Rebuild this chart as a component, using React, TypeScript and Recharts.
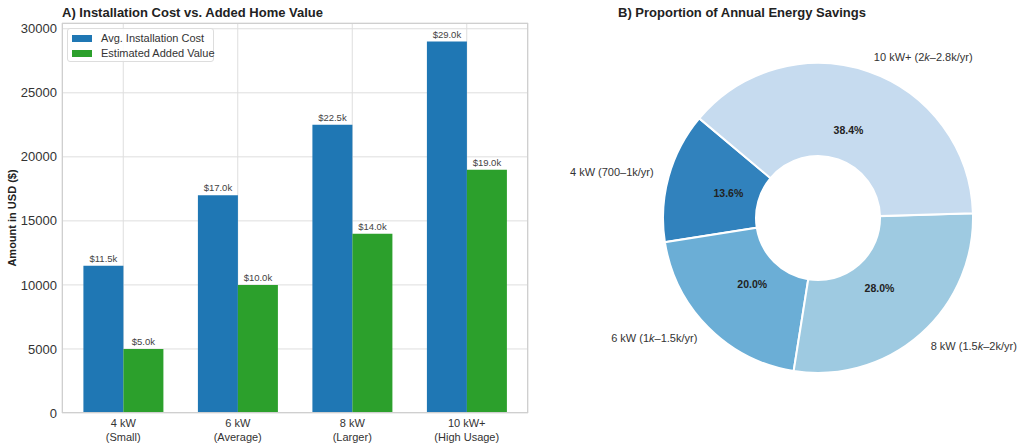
import * as React from "react"
import {
  BarChart,
  Bar,
  XAxis,
  YAxis,
  CartesianGrid,
  LabelList,
  PieChart,
  Pie,
  Cell,
} from "recharts"

const font = '"Liberation Sans", Arial, sans-serif'

// panel A
const systemSizes = ["4 kW", "6 kW", "8 kW", "10 kW+"]
const sizeNotes = ["(Small)", "(Average)", "(Larger)", "(High Usage)"]
const installCost = [11500, 17000, 22500, 29000]
const addedValue = [5000, 10000, 14000, 19000]
const yTicks = [0, 5000, 10000, 15000, 20000, 25000, 30000]

// panel B
const savingsMid = [850, 1250, 1750, 2400]
const sliceLabels: [string, string, string][] = [
  ["4 kW (700–1k/yr)", "", ""],
  ["6 kW (1", "k", "–1.5k/yr)"],
  ["8 kW (1.5", "k", "–2k/yr)"],
  ["10 kW+ (2", "k", "–2.8k/yr)"],
]
const sliceColors = ["#3182bd", "#6baed6", "#9ecae1", "#c6dbef"]

const barData = systemSizes.map((s, i) => ({
  name: s,
  note: sizeNotes[i],
  cost: installCost[i],
  value: addedValue[i],
}))

const pieData = savingsMid.map((v, i) => ({ name: sliceLabels[i].join(""), value: v, idx: i }))

const fmtK = (v: any) => `$${(Number(v) / 1000).toFixed(1)}k`

const SizeTick = (props: any) => {
  const { x, y, payload, index } = props
  return (
    <text x={x} y={y} textAnchor="middle" fontSize={11} fill="#333" fontFamily={font}>
      <tspan x={x} dy={14}>{payload.value}</tspan>
      <tspan x={x} dy={13.5}>{sizeNotes[index]}</tspan>
    </text>
  )
}

const RAD = Math.PI / 180

const sliceLabel = (props: any) => {
  const { cx, cy, midAngle, outerRadius, percent, index } = props
  const cos = Math.cos(-midAngle * RAD)
  const sin = Math.sin(-midAngle * RAD)
  const ro = outerRadius * 1.1
  const ri = outerRadius * 0.6
  const ox = cx + ro * cos
  const oy = cy + ro * sin
  const px = cx + ri * cos
  const py = cy + ri * sin
  const [a, b, c] = sliceLabels[index]
  return (
    <g>
      <text
        x={ox}
        y={oy}
        textAnchor={cos >= 0 ? "start" : "end"}
        dominantBaseline="central"
        fontSize={11}
        fill="#333"
        fontFamily={font}
      >
        {a}
        {b && <tspan fontStyle="italic">{b}</tspan>}
        {c}
      </text>
      <text
        x={px}
        y={py}
        textAnchor="middle"
        dominantBaseline="central"
        fontSize={10.5}
        fontWeight="bold"
        fill="#222"
        fontFamily={font}
      >
        {(percent * 100).toFixed(1)}%
      </text>
    </g>
  )
}

const LegendBox = () => (
  <div
    style={{
      position: "absolute",
      left: 67,
      top: 28,
      width: 147,
      height: 34,
      border: "1px solid #dddddd",
      borderRadius: 3,
      boxSizing: "border-box",
      background: "rgba(255,255,255,0.85)",
      fontFamily: font,
      fontSize: 11,
      color: "#333",
      whiteSpace: "nowrap",
    }}
  >
    {[
      ["Avg. Installation Cost", "#1f77b4"],
      ["Estimated Added Value", "#2ca02c"],
    ].map(([t, c], i) => (
      <div key={t} style={{ position: "absolute", left: 4, top: 2 + i * 15, height: 14, display: "flex", alignItems: "center" }}>
        <span style={{ display: "inline-block", width: 20, height: 7, background: c, marginRight: 9 }} />
        <span>{t}</span>
      </div>
    ))}
  </div>
)

export default function App() {
  return (
    <div style={{ position: "absolute", left: 0, top: 0, width: 1024, height: 448, background: "#fff", fontFamily: font }}>
      <div style={{ position: "absolute", left: 0, top: 0 }}>
        <BarChart
          width={540}
          height={448}
          data={barData}
          margin={{ top: 23, right: 12, bottom: 0, left: 0 }}
          barCategoryGap="15.2%"
          barGap={0}
        >
          <CartesianGrid stroke="#dedede" strokeWidth={1} />
          <XAxis
            dataKey="name"
            height={35}
            tick={<SizeTick />}
            tickSize={0}
            tickMargin={0}
            axisLine={false}
            padding={{ left: 4, right: 4 }}
            interval={0}
          />
          <YAxis
            width={62}
            domain={[0, 30450]}
            ticks={yTicks}
            tickSize={0}
            tickMargin={5}
            axisLine={false}
            tick={{ fontSize: 13, fill: "#333", fontFamily: font }}
          />
          <Bar dataKey="cost" fill="#1f77b4" isAnimationActive={false}>
            <LabelList dataKey="cost" position="top" offset={4} formatter={fmtK} fontSize={9.5} fill="#444" fontFamily={font} />
          </Bar>
          <Bar dataKey="value" fill="#2ca02c" isAnimationActive={false}>
            <LabelList dataKey="value" position="top" offset={4} formatter={fmtK} fontSize={9.5} fill="#444" fontFamily={font} />
          </Bar>
        </BarChart>
      </div>
      <div
        style={{
          position: "absolute",
          left: 62,
          top: 23,
          width: 466,
          height: 390,
          border: "1px solid #cfcfcf",
          boxSizing: "border-box",
          pointerEvents: "none",
        }}
      />
      <LegendBox />
      <div style={{ position: "absolute", left: 540, top: 0 }}>
        <PieChart width={484} height={448} margin={{ top: 0, right: 0, bottom: 0, left: 0 }}>
          <Pie
            data={pieData}
            dataKey="value"
            cx={278}
            cy={218}
            innerRadius={62}
            outerRadius={155}
            startAngle={140}
            endAngle={500}
            stroke="#ffffff"
            strokeWidth={2}
            label={sliceLabel}
            labelLine={false}
            isAnimationActive={false}
          >
            {pieData.map((d) => (
              <Cell key={d.name} fill={sliceColors[d.idx]} />
            ))}
          </Pie>
        </PieChart>
      </div>
      <svg width={1024} height={448} style={{ position: "absolute", left: 0, top: 0, pointerEvents: "none" }}>
        <text x={62} y={17} fontSize={13} fontWeight="bold" fill="#222" fontFamily={font}>
          A) Installation Cost vs. Added Home Value
        </text>
        <text x={742} y={17} textAnchor="middle" fontSize={13} fontWeight="bold" fill="#222" fontFamily={font}>
          B) Proportion of Annual Energy Savings
        </text>
        <text
          x={12}
          y={218}
          transform="rotate(-90 12 218)"
          textAnchor="middle"
          dominantBaseline="central"
          fontSize={11}
          fontWeight="bold"
          fill="#222"
          fontFamily={font}
        >
          Amount in USD ($)
        </text>
      </svg>
    </div>
  )
}
